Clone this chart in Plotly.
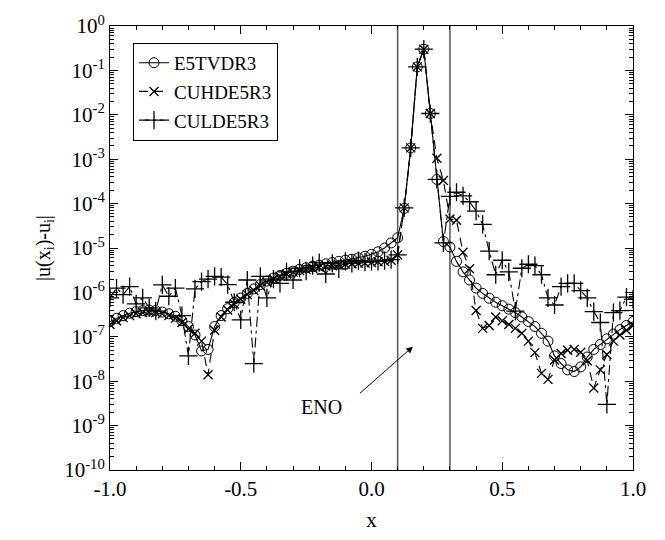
import numpy as np
import plotly.graph_objects as go

# grid points x_i
x_vals = list(np.round(np.linspace(-1.0, 1.0, 81), 3))

e5tvdr3 = [2.2e-7, 2.6e-7, 3.0e-7, 3.4e-7, 3.7e-7, 3.9e-7, 4.0e-7, 3.9e-7, 3.6e-7, 3.3e-7,
           2.9e-7, 2.3e-7, 1.7e-7, 1.1e-7, 4.8e-8, 5.2e-8, 1.7e-7, 3.0e-7, 4.3e-7, 5.9e-7,
           7.5e-7, 9.5e-7, 1.2e-6, 1.5e-6, 1.8e-6, 2.1e-6, 2.4e-6, 2.7e-6, 3.0e-6, 3.3e-6,
           3.6e-6, 3.9e-6, 4.1e-6, 4.4e-6, 4.7e-6, 5.0e-6, 5.3e-6, 5.6e-6, 6.0e-6, 6.5e-6,
           7.2e-6, 8.2e-6, 1.0e-5, 1.3e-5, 1.7e-5, 7.8e-5, 1.8e-3, 1.2e-1, 3.0e-1, 1.07e-2,
           3.5e-4, 1.4e-5, 1.05e-5, 5.0e-6, 2.9e-6, 1.9e-6, 1.25e-6, 9.5e-7, 7.4e-7, 6.0e-7,
           5.0e-7, 4.2e-7, 3.5e-7, 2.8e-7, 2.2e-7, 1.7e-7, 1.2e-7, 8.0e-8, 3.7e-8, 2.5e-8,
           1.8e-8, 1.65e-8, 2.1e-8, 3.5e-8, 5.2e-8, 6.7e-8, 9.0e-8, 1.15e-7, 1.45e-7, 1.8e-7,
           2.2e-7]

cuhde5r3 = [1.9e-7, 2.3e-7, 2.7e-7, 3.0e-7, 3.3e-7, 3.5e-7, 3.6e-7, 3.5e-7, 3.3e-7, 3.0e-7,
            2.6e-7, 2.1e-7, 1.5e-7, 1.2e-7, 8.0e-8, 1.4e-8, 1.4e-7, 2.8e-7, 4.0e-7, 5.5e-7,
            7.0e-7, 9.0e-7, 1.1e-6, 1.4e-6, 1.7e-6, 2.0e-6, 2.3e-6, 2.6e-6, 2.9e-6, 3.1e-6,
            3.3e-6, 3.5e-6, 3.7e-6, 3.9e-6, 4.0e-6, 4.2e-6, 4.3e-6, 4.4e-6, 4.5e-6, 4.6e-6,
            4.7e-6, 4.9e-6, 5.0e-6, 5.3e-6, 7.0e-6, 8.0e-5, 1.8e-3, 1.2e-1, 3.0e-1, 1.07e-2,
            1.05e-3, 3.3e-4, 4.5e-5, 4.2e-5, 8.0e-6, 3.4e-6, 3.9e-7, 1.55e-7, 1.8e-7, 2.8e-7,
            2.3e-7, 1.9e-7, 1.55e-7, 1.2e-7, 8.0e-8, 4.4e-8, 1.5e-8, 1.1e-8, 3.0e-8, 4.2e-8,
            5.0e-8, 5.2e-8, 4.5e-8, 2.9e-8, 7.0e-9, 1.8e-8, 4.0e-8, 8.0e-8, 1.1e-7, 1.4e-7,
            1.8e-7]

culde5r3 = [7.5e-7, 1.25e-6, 8.9e-7, 1.35e-6, 5.5e-7, 7.5e-7, 4.5e-7, 3.8e-7, 1.47e-6, 8.2e-7,
            1.25e-6, 3.0e-7, 3.7e-8, 1.2e-6, 1.75e-6, 2.0e-6, 2.3e-6, 2.2e-6, 1.5e-6, 6.0e-7,
            2.4e-7, 1.9e-6, 2.5e-8, 2.3e-6, 7.5e-7, 2.0e-6, 1.6e-6, 2.9e-6, 1.9e-6, 3.5e-6,
            3.0e-6, 4.0e-6, 4.7e-6, 2.6e-6, 4.5e-6, 3.4e-6, 5.0e-6, 4.5e-6, 5.2e-6, 4.8e-6,
            5.0e-6, 5.0e-6, 5.2e-6, 5.5e-6, 7.0e-6, 8.0e-5, 1.8e-3, 1.2e-1, 3.0e-1, 1.07e-2,
            3.5e-4, 1.3e-5, 1.45e-4, 1.8e-4, 1.5e-4, 1.1e-4, 6.8e-5, 3.4e-5, 8.5e-6, 2.5e-6,
            5.3e-6, 2.9e-6, 3.8e-7, 3.5e-6, 4.3e-6, 4.0e-6, 2.5e-6, 7.5e-7, 5.2e-7, 1.35e-6,
            1.6e-6, 1.6e-6, 1.1e-6, 7.5e-7, 3.7e-7, 2.1e-7, 3.0e-9, 3.5e-7, 3.9e-7, 7.8e-7,
            7.0e-7]

series_names = ["E5TVDR3", "CUHDE5R3", "CULDE5R3"]

eno_bounds = [0.1, 0.3]
eno_label_pos = (-0.19, 2.6e-9)
eno_arrow_tail = (-0.05, 5.0e-9)
eno_arrow_head = (0.158, 6.0e-8)

x_tickvals = [-1.0, -0.5, 0.0, 0.5, 1.0]
x_ticktext = ["-1.0", "-0.5", "0.0", "0.5", "1.0"]
y_exponents = [0, -1, -2, -3, -4, -5, -6, -7, -8, -9, -10]

FONT = "Liberation Serif"
BLACK = "black"

fig = go.Figure()

fig.add_trace(go.Scatter(
    x=x_vals, y=e5tvdr3, name=series_names[0], mode="lines+markers",
    line=dict(color=BLACK, width=1.1),
    marker=dict(symbol="circle-open", size=10, color=BLACK, line=dict(width=1)),
    legendgroup="a"))
fig.add_trace(go.Scatter(
    x=x_vals, y=cuhde5r3, name=series_names[1], mode="lines+markers",
    line=dict(color=BLACK, width=1.1, dash="9px,6px"),
    marker=dict(symbol="x-thin", size=9, color=BLACK, line=dict(width=1.3, color=BLACK)),
    legendgroup="b"))
fig.add_trace(go.Scatter(
    x=x_vals, y=culde5r3, name=series_names[2], mode="lines+markers",
    line=dict(color=BLACK, width=1.1, dash="10px,4px,3px,4px"),
    marker=dict(symbol="cross-thin", size=13, color=BLACK, line=dict(width=1.3, color=BLACK)),
    legendgroup="c"))

for xb in eno_bounds:
    fig.add_shape(type="line", xref="x", yref="paper", x0=xb, x1=xb, y0=0, y1=1,
                  line=dict(color="#555555", width=1.5), layer="below")

fig.add_annotation(x=eno_label_pos[0], y=np.log10(eno_label_pos[1]), text="ENO",
                   showarrow=False, font=dict(family=FONT, size=20, color=BLACK))
fig.add_annotation(x=eno_arrow_head[0], y=np.log10(eno_arrow_head[1]),
                   ax=eno_arrow_tail[0], ay=np.log10(eno_arrow_tail[1]),
                   axref="x", ayref="y", text="", showarrow=True,
                   arrowhead=2, arrowsize=1.3, arrowwidth=1, arrowcolor=BLACK)

fig.update_layout(
    width=665, height=540,
    margin=dict(l=110, r=32, t=20, b=60),
    paper_bgcolor="white", plot_bgcolor="white",
    font=dict(family=FONT, size=20, color=BLACK),
    showlegend=True,
    legend=dict(x=0.044, y=0.962, xanchor="left", yanchor="top",
                bordercolor=BLACK, borderwidth=1, bgcolor="white",
                font=dict(family=FONT, size=19, color=BLACK),
                tracegroupgap=1),
)

fig.update_xaxes(
    range=[-1.0, 1.0], tickvals=x_tickvals, ticktext=x_ticktext,
    ticks="inside", ticklen=8, tickwidth=1, tickcolor=BLACK,
    minor=dict(dtick=0.1, tick0=-1.0, ticks="inside", ticklen=4, tickcolor=BLACK, showgrid=False),
    showline=True, linecolor=BLACK, linewidth=1, mirror="ticks",
    showgrid=False, zeroline=False,
    tickfont=dict(family=FONT, size=21, color=BLACK),
    title=dict(text="x", font=dict(family=FONT, size=21, color=BLACK), standoff=12),
)
fig.update_yaxes(
    type="log", range=[-10, 0],
    tickvals=[10.0 ** e for e in y_exponents],
    ticktext=["10<sup>%d</sup>" % e for e in y_exponents],
    ticks="inside", ticklen=8, tickwidth=1, tickcolor=BLACK,
    minor=dict(ticks="inside", ticklen=4, tickcolor=BLACK, dtick="D1", showgrid=False),
    showline=True, linecolor=BLACK, linewidth=1, mirror="ticks",
    showgrid=False, zeroline=False,
    tickfont=dict(family=FONT, size=21, color=BLACK),
    title=dict(text="|u(x<sub>i</sub>)-u<sub>i</sub>|", font=dict(family=FONT, size=20, color=BLACK), standoff=8),
)

fig.write_html("out.html")
